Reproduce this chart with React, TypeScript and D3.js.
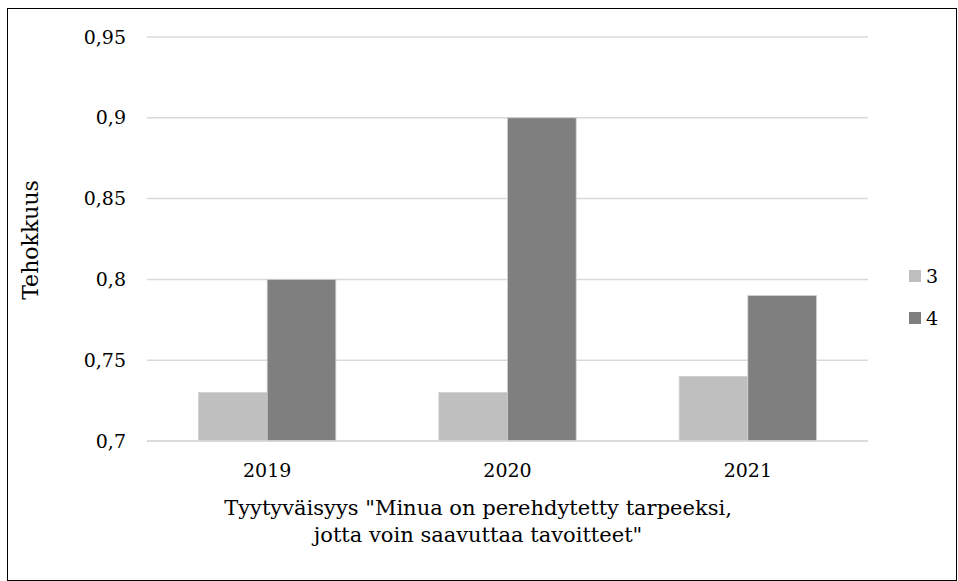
import React from "react";
import * as d3 from "d3";

const categories = ["2019", "2020", "2021"];
const seriesNames = ["3", "4"];
const series3 = [0.73, 0.73, 0.74];
const series4 = [0.8, 0.9, 0.79];
const yTicks = [0.7, 0.75, 0.8, 0.85, 0.9, 0.95];
const yTickLabels = ["0,7", "0,75", "0,8", "0,85", "0,9", "0,95"];
const xTitleLines = ['Tyytyväisyys "Minua on perehdytetty tarpeeksi,', 'jotta voin saavuttaa tavoitteet"'];
const yTitle = "Tehokkuus";

const colors = ["#bfbfbf", "#7f7f7f"];
const FONT = "'DejaVu Serif', 'Liberation Serif', serif";

export default function App() {
  const W = 958, H = 581;
  const left = 147, right = 868, top = 37, bottom = 441;
  const x0 = d3.scaleBand().domain(categories).range([left, right]).paddingInner(0).paddingOuter(0);
  const y = d3.scaleLinear().domain([0.7, 0.95]).range([bottom, top]);
  const cw = x0.bandwidth();
  const bw = cw / 3.5;
  const values = [series3, series4];

  return (
    <svg width={W} height={H} style={{ position: "absolute", left: 0, top: 0 }} fontFamily={FONT}>
      <rect x={7.5} y={8.5} width={949} height={572} fill="#fff" stroke="#000" strokeWidth={1} />
      {yTicks.map((t, i) => (
        <g key={i}>
          <line x1={left} x2={right} y1={y(t)} y2={y(t)} stroke="#d9d9d9" strokeWidth={1.5} />
          <text x={126} y={y(t)} dy="0.35em" textAnchor="end" fontSize={19} fill="#000">{yTickLabels[i]}</text>
        </g>
      ))}
      {categories.map((c, ci) => {
        const cx = (x0(c) as number) + cw / 2;
        return (
          <g key={c}>
            {values.map((vals, si) => (
              <rect
                key={si}
                x={cx - bw + si * bw}
                y={y(vals[ci])}
                width={bw}
                height={y(0.7) - y(vals[ci])}
                fill={colors[si]}
                stroke="#d0d0d0"
                strokeWidth={0.8}
              />
            ))}
            <text x={cx} y={477} textAnchor="middle" fontSize={19} fill="#000">{c}</text>
          </g>
        );
      })}
      <line x1={left} x2={right} y1={bottom} y2={bottom} stroke="#d9d9d9" strokeWidth={1.5} />
      <text transform={`translate(38,240) rotate(-90)`} textAnchor="middle" fontSize={22} fill="#000">{yTitle}</text>
      {xTitleLines.map((l, i) => (
        <text key={i} x={478} y={515 + i * 27} textAnchor="middle" fontSize={21} fill="#000">{l}</text>
      ))}
      {seriesNames.map((s, i) => (
        <g key={s}>
          <rect x={909} y={270 + i * 42} width={12} height={12} fill={colors[i]} />
          <text x={926} y={276 + i * 42} dy="0.35em" fontSize={19} fill="#000">{s}</text>
        </g>
      ))}
    </svg>
  );
}
